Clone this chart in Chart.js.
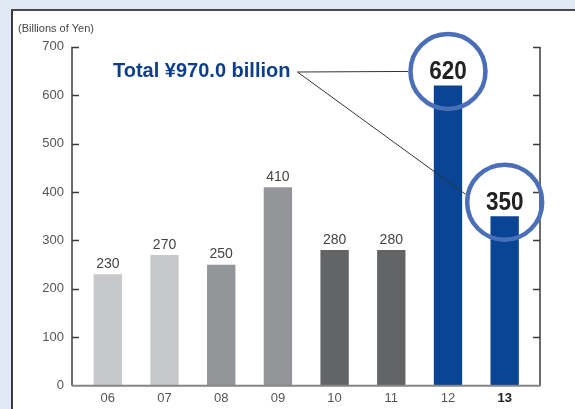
<!DOCTYPE html>
<html>
<head>
<meta charset="utf-8">
<script src="https://cdn.jsdelivr.net/npm/chart.js@4"></script>
<style>
    html, body { margin: 0; padding: 0; }
    body { width: 575px; height: 409px; background: #dfe8f3; position: relative; overflow: hidden; }
    #panel {
        position: absolute; left: 11px; top: 9px; width: 600px; height: 440px;
        background: #fff; border-left: 2px solid #3a3a3a; border-top: 2px solid #4a4a4a;
    }
    #investChart { position: absolute; left: 0; top: 0; }
</style>
</head>
<body>
<div id="panel"></div>
<canvas id="investChart" width="575" height="409"></canvas>
<script>
const years = ['06', '07', '08', '09', '10', '11', '12', '13'];
const amounts = [230, 270, 250, 410, 280, 280, 620, 350];
const barColors = ['#c7c8ca', '#c7c8ca', '#939598', '#939598', '#636466', '#636466', '#0a4595', '#0a4595'];
const highlighted = [6, 7];
const unitLabel = '(Billions of Yen)';

const FONT = '"Liberation Sans", Arial, Helvetica, sans-serif';

// axis frame: left/right verticals with inward ticks, gray baseline
const axisFrame = {
    id: 'axisFrame',
    afterDatasetsDraw(chart) {
        const { ctx, chartArea, scales } = chart;
        const y = scales.y;
        const xl = chartArea.left - 7.5;
        const xr = chartArea.right + 7;
        ctx.save();
        ctx.strokeStyle = '#3c3c3c';
        ctx.lineWidth = 1.5;
        ctx.beginPath();
        ctx.moveTo(xl, chartArea.top);
        ctx.lineTo(xl, chartArea.bottom);
        ctx.moveTo(xr, chartArea.top);
        ctx.lineTo(xr, chartArea.bottom);
        y.ticks.forEach(t => {
            if (t.value === 0) return;
            const py = Math.round(y.getPixelForValue(t.value)) + 0.5;
            ctx.moveTo(xl, py);
            ctx.lineTo(xl + 7, py);
            ctx.moveTo(xr, py);
            ctx.lineTo(xr - 7, py);
        });
        ctx.stroke();
        ctx.strokeStyle = '#858585';
        ctx.lineWidth = 2;
        ctx.beginPath();
        ctx.moveTo(xl, chartArea.bottom);
        ctx.lineTo(xr + 0.75, chartArea.bottom);
        ctx.stroke();

        ctx.fillStyle = '#444';
        ctx.font = '11px ' + FONT;
        ctx.textBaseline = 'middle';
        ctx.fillText(unitLabel, 18, 29);
        ctx.restore();
    }
};

// value labels, circled callouts and the total note
const valueLabels = {
    id: 'valueLabels',
    afterDraw(chart) {
        const { ctx } = chart;
        const bars = chart.getDatasetMeta(0).data;
        const circles = [];
        ctx.save();
        ctx.textAlign = 'center';
        ctx.textBaseline = 'middle';
        bars.forEach((bar, i) => {
            const v = amounts[i];
            if (highlighted.includes(i)) {
                const cy = bar.y - 14;
                // narrow bold figures
                ctx.save();
                ctx.translate(bar.x, cy + 1);
                ctx.scale(0.9, 1);
                ctx.fillStyle = '#222';
                ctx.font = 'bold 25px ' + FONT;
                ctx.fillText(String(v), 0, 0);
                ctx.restore();
                ctx.strokeStyle = '#4a6fb8';
                ctx.lineWidth = 4.5;
                ctx.beginPath();
                ctx.arc(bar.x, cy, 37.5, 0, Math.PI * 2);
                ctx.stroke();
                circles.push({ x: bar.x, y: cy, r: 40 });
            } else {
                ctx.fillStyle = '#444';
                ctx.font = '14px ' + FONT;
                ctx.fillText(String(v), bar.x, bar.y - 10);
            }
        });

        const total = highlighted.reduce((s, i) => s + amounts[i], 0);
        const note = 'Total \u00a5' + total.toFixed(1) + ' billion';
        ctx.font = 'bold 20px ' + FONT;
        ctx.fillStyle = '#0c3e8e';
        ctx.textAlign = 'left';
        ctx.fillText(note, 113, 71);
        const sx = 113 + ctx.measureText(note).width + 7;
        const sy = 72;

        ctx.strokeStyle = '#333';
        ctx.lineWidth = 1;
        ctx.beginPath();
        const c1 = circles[0];
        ctx.moveTo(sx, sy);
        ctx.lineTo(c1.x - c1.r, c1.y);
        const c2 = circles[1];
        const a = Math.PI + 0.2;
        ctx.moveTo(sx, sy);
        ctx.lineTo(c2.x + c2.r * Math.cos(a), c2.y + c2.r * Math.sin(a));
        ctx.stroke();
        ctx.restore();
    }
};

new Chart(document.getElementById('investChart'), {
    type: 'bar',
    data: {
        labels: years,
        datasets: [{
            data: amounts,
            backgroundColor: barColors,
            borderWidth: 0,
            barPercentage: 0.5,
            categoryPercentage: 1
        }]
    },
    options: {
        responsive: false,
        animation: false,
        layout: { padding: { top: 46.7, right: 42, left: 0, bottom: 0 } },
        plugins: {
            legend: { display: false },
            tooltip: { enabled: false }
        },
        scales: {
            x: {
                grid: { display: false, drawTicks: false },
                border: { display: false },
                ticks: {
                    padding: 5,
                    color: ctx => ctx.index === 7 ? '#222' : '#555',
                    font: ctx => ({ family: FONT, size: 13, weight: ctx.index === 7 ? 'bold' : 'normal' })
                },
                afterFit: s => { s.height = 22.5; }
            },
            y: {
                min: 0,
                max: 700,
                grid: { display: false, drawTicks: false },
                border: { display: false },
                ticks: {
                    stepSize: 100,
                    padding: 15.5,
                    color: '#555',
                    font: { family: FONT, size: 13 }
                },
                afterFit: s => { s.width = 79.5; }
            }
        }
    },
    plugins: [axisFrame, valueLabels]
});
</script>
</body>
</html>
